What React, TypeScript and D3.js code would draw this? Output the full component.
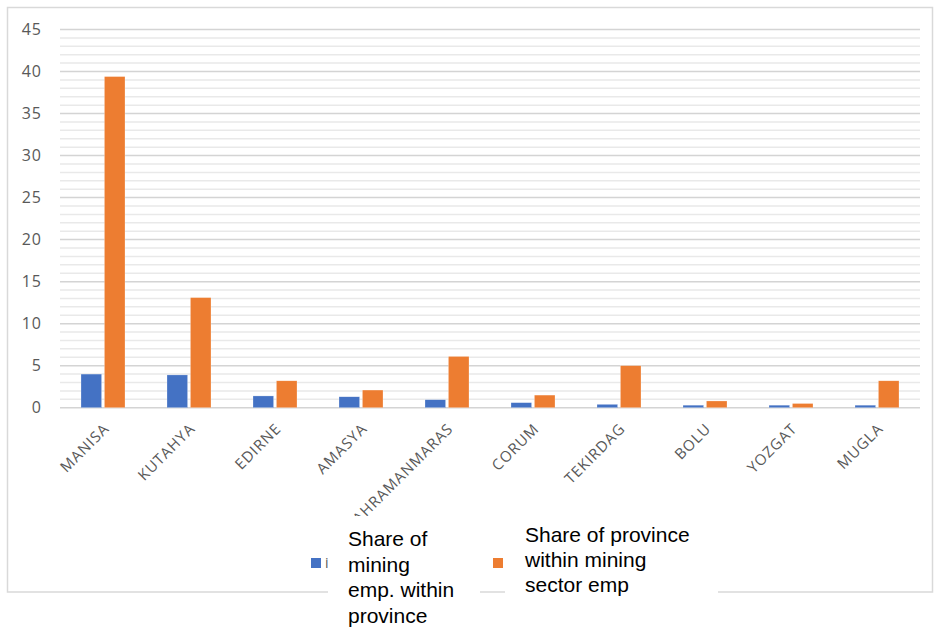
import React from "react";
import * as d3 from "d3";

const provinces = [
  "MANISA",
  "KUTAHYA",
  "EDIRNE",
  "AMASYA",
  "KAHRAMANMARAS",
  "CORUM",
  "TEKIRDAG",
  "BOLU",
  "YOZGAT",
  "MUGLA",
];
const miningShareWithinProvince = [4.0, 3.9, 1.4, 1.3, 0.95, 0.6, 0.4, 0.3, 0.3, 0.3];
const provinceShareWithinSector = [39.4, 13.1, 3.2, 2.1, 6.1, 1.5, 5.0, 0.8, 0.5, 3.2];
const yTicks = [0, 5, 10, 15, 20, 25, 30, 35, 40, 45];
const seriesNames = [
  "Share of mining emp. within province",
  "Share of province within mining sector emp",
];
const seriesColors = ["#4472C4", "#ED7D31"];

const W = 934;
const H = 628;
const plot = { left: 60, right: 920, top: 29.5, bottom: 407.7 };

export default function App() {
  const x = d3
    .scaleBand<string>()
    .domain(provinces)
    .range([plot.left, plot.right])
    .paddingInner(0)
    .paddingOuter(0);
  const inner = d3
    .scaleBand<string>()
    .domain(["a", "b"])
    .range([21, x.bandwidth() - 21])
    .paddingInner(0.12);
  const y = d3.scaleLinear().domain([0, 45]).range([plot.bottom, plot.top]);
  const minor = d3.range(0, 46, 1);

  const series = [miningShareWithinProvince, provinceShareWithinSector];
  const keys = ["a", "b"];

  return (
    <svg
      width={W}
      height={H}
      style={{ position: "absolute", left: 0, top: 0, background: "#fff" }}
      fontFamily="'Open Sans', sans-serif"
    >
      <rect x={7.5} y={7.5} width={925} height={584.5} fill="#fff" stroke="#d9d9d9" strokeWidth={1.5} />

      {/* gridlines */}
      {minor.map((v) => (
        <line
          key={"g" + v}
          x1={plot.left}
          x2={plot.right}
          y1={y(v)}
          y2={y(v)}
          stroke={v % 5 === 0 ? "#d4d4d4" : "#e9e9e9"}
          strokeWidth={1.5}
        />
      ))}

      {/* y labels */}
      {yTicks.map((t) => (
        <text
          key={"y" + t}
          x={42}
          y={y(t)}
          dy="0.36em"
          textAnchor="end"
          fontSize={16}
          fill="#595959"
          letterSpacing={1}
        >
          {t}
        </text>
      ))}

      {/* bars */}
      {provinces.map((p, i) => (
        <g key={p} transform={`translate(${x(p)},0)`}>
          {series.map((s, k) => (
            <rect
              key={k}
              x={inner(keys[k])}
              y={y(s[i])}
              width={inner.bandwidth()}
              height={y(0) - y(s[i])}
              fill={seriesColors[k]}
              stroke="#fff"
              strokeOpacity={0.5}
              strokeWidth={0.5}
            />
          ))}
        </g>
      ))}

      {/* x labels */}
      {provinces.map((p) => {
        const cx = (x(p) as number) + x.bandwidth() / 2;
        return (
          <text
            key={"x" + p}
            transform={`translate(${cx + 7},${plot.bottom + 22}) rotate(-45)`}
            textAnchor="end"
            fontSize={15}
            fill="#595959"
            letterSpacing={0.9}
          >
            {p}
          </text>
        );
      })}

      {/* legend */}
      <rect x={311} y={558} width={10} height={10} fill={seriesColors[0]} />
      <text x={325} y={568} fontSize={14} fill="#595959">
        i
      </text>
      <rect x={493} y={558} width={10} height={10} fill={seriesColors[1]} />

      <rect x={328} y={516} width={152} height={112} fill="#fff" />
      <text fontFamily="'Liberation Sans', Arial, sans-serif" fontSize={21} fill="#000">
        {["Share of", "mining", "emp. within", "province"].map((l, i) => (
          <tspan key={i} x={348} y={546 + i * 25.5}>
            {l}
          </tspan>
        ))}
      </text>
      <title>{seriesNames[0]}</title>

      <rect x={505} y={514} width={213} height={80} fill="#fff" />
      <text fontFamily="'Liberation Sans', Arial, sans-serif" fontSize={21} fill="#000">
        {["Share of province", "within mining", "sector emp"].map((l, i) => (
          <tspan key={i} x={525} y={542 + i * 25}>
            {l}
          </tspan>
        ))}
      </text>
    </svg>
  );
}
